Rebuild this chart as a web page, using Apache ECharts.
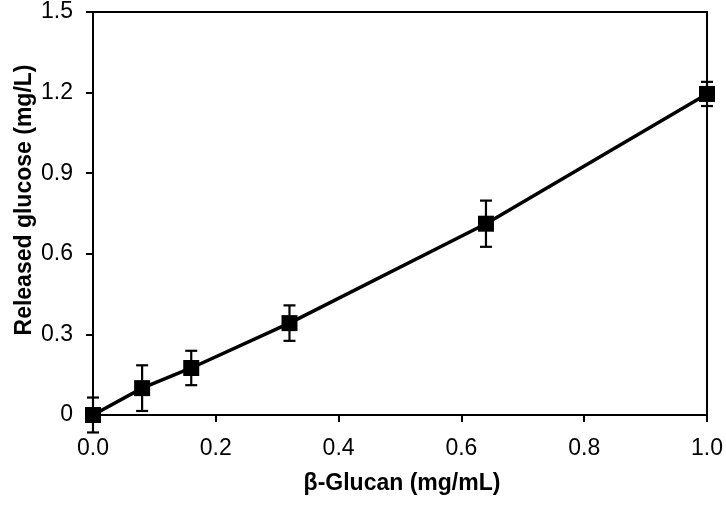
<!DOCTYPE html>
<html>
<head>
<meta charset="utf-8">
<script src="https://cdn.jsdelivr.net/npm/echarts@6/dist/echarts.min.js"></script>
<style>
html,body{margin:0;padding:0;background:#fff;}
#c{width:726px;height:505px;}
</style>
</head>
<body>
<div id="c"></div>
<script>
const xValues = [0, 0.08, 0.16, 0.32, 0.64, 1.0];
const yValues = [0, 0.10, 0.175, 0.342, 0.712, 1.195];
const yErrors = [0.065, 0.085, 0.064, 0.066, 0.086, 0.045];
const xTitle = 'β-Glucan (mg/mL)';
const yTitle = 'Released glucose (mg/L)';

const pts = xValues.map((x, i) => [x, yValues[i]]);
const errData = xValues.map((x, i) => [x, yValues[i] - yErrors[i], yValues[i] + yErrors[i]]);

const chart = echarts.init(document.getElementById('c'), null, {renderer: 'canvas'});
const font = 'Liberation Sans, Arial, Helvetica, sans-serif';
chart.setOption({
  animation: false,
  backgroundColor: '#fff',
  grid: {left: 93, right: 17, top: 12, bottom: 90, show: true, borderColor: '#000', borderWidth: 2, backgroundColor: 'transparent'},
  xAxis: {
    type: 'value', min: 0, max: 1, interval: 0.2,
    axisLine: {show: true, onZero: false, lineStyle: {color: '#000', width: 2}},
    axisTick: {show: true, inside: false, length: 7, lineStyle: {color: '#000', width: 2}},
    axisLabel: {color: '#000', fontSize: 23, fontFamily: font, margin: 22, formatter: v => v.toFixed(1)},
    splitLine: {show: false}
  },
  yAxis: {
    type: 'value', min: 0, max: 1.5, interval: 0.3,
    axisLine: {show: true, onZero: false, lineStyle: {color: '#000', width: 2}},
    axisTick: {show: true, inside: false, length: 7, lineStyle: {color: '#000', width: 2}},
    axisLabel: {color: '#000', fontSize: 23, fontFamily: font, margin: 20, formatter: v => v === 0 ? '0' : v.toFixed(1)},
    splitLine: {show: false}
  },
  graphic: [
    {type: 'text', x: 402, y: 484, style: {text: xTitle, x: 0, y: 0, align: 'center', verticalAlign: 'middle', fontSize: 23, fontWeight: 'bold', fontFamily: font, fill: '#000'}},
    {type: 'text', x: 25, y: 200, rotation: Math.PI / 2, style: {text: yTitle, x: 0, y: 0, align: 'center', verticalAlign: 'middle', fontSize: 23, fontWeight: 'bold', fontFamily: font, fill: '#000'}}
  ],
  series: [
    {
      type: 'line', data: pts, symbol: 'rect', symbolSize: 16,
      lineStyle: {color: '#000', width: 3.5}, itemStyle: {color: '#000'}, z: 3
    },
    {
      type: 'custom', data: errData, z: 4,
      renderItem: function (params, api) {
        const x = api.value(0);
        const lo = api.coord([x, api.value(1)]);
        const hi = api.coord([x, api.value(2)]);
        const hw = 6;
        const st = {stroke: '#000', lineWidth: 2.2, fill: null};
        return {type: 'group', children: [
          {type: 'line', shape: {x1: lo[0], y1: lo[1], x2: hi[0], y2: hi[1]}, style: st},
          {type: 'line', shape: {x1: lo[0] - hw, y1: lo[1], x2: lo[0] + hw, y2: lo[1]}, style: st},
          {type: 'line', shape: {x1: hi[0] - hw, y1: hi[1], x2: hi[0] + hw, y2: hi[1]}, style: st}
        ]};
      }
    }
  ]
});
</script>
</body>
</html>
